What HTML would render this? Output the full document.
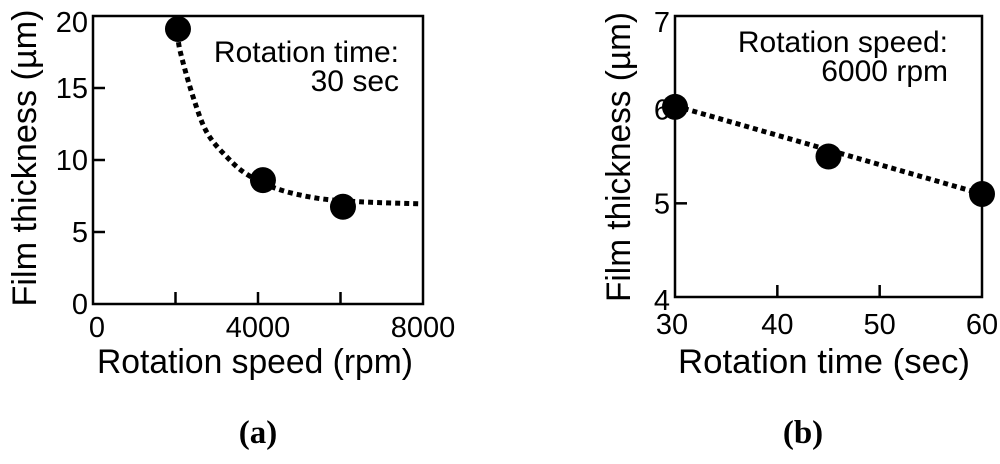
<!DOCTYPE html>
<html><head><meta charset="utf-8"><style>
body{margin:0;background:#fff}
svg text{font-family:"Liberation Sans",Arial,sans-serif;fill:#000}
svg text.panel{font-family:"Liberation Serif",serif;font-weight:bold}
</style></head><body>
<svg width="1000" height="459" viewBox="0 0 1000 459">
<g id="ga"></g>
<g id="gb"></g>
</svg>
<script>
const aX=[2060,4120,6060];
const aY=[19.1,8.6,6.75];
const aFitX=[2060,2109,2424,2764,3248,3733,4460,5430,6470,7980];
const aFitY=[18.8,17.6,14.4,11.9,10.2,9.0,8.0,7.35,7.1,6.95];
const aXTicks=[0,2000,4000,6000,8000];
const aXLabels=["0","","4000","","8000"];
const aYTicks=[0,5,10,15,20];
const aYLabels=["0","5","10","15","20"];
const bX=[30,45,60];
const bY=[6.03,5.5,5.1];
const bFitX=[30,60];
const bFitY=[6.04,5.1];
const bXTicks=[30,40,50,60];
const bXLabels=["30","40","50","60"];
const bYTicks=[4,5,6,7];
const bYLabels=["4","5","6","7"];
const NS="http://www.w3.org/2000/svg";
function mk(p,t,a,txt){const e=document.createElementNS(NS,t);for(const k in a)e.setAttribute(k,a[k]);if(txt!==undefined)e.textContent=txt;p.appendChild(e);return e;}
function smooth(pts){
 if(pts.length<3)return pts.map((p,i)=>(i?'L':'M')+p[0].toFixed(1)+' '+p[1].toFixed(1)).join(' ');
 let d='M'+pts[0][0].toFixed(1)+' '+pts[0][1].toFixed(1);
 for(let i=0;i<pts.length-1;i++){
  const p0=pts[Math.max(0,i-1)],p1=pts[i],p2=pts[i+1],p3=pts[Math.min(pts.length-1,i+2)];
  const c1=[p1[0]+(p2[0]-p0[0])/6,p1[1]+(p2[1]-p0[1])/6];
  const c2=[p2[0]-(p3[0]-p1[0])/6,p2[1]-(p3[1]-p1[1])/6];
  d+=` C${c1[0].toFixed(1)} ${c1[1].toFixed(1)} ${c2[0].toFixed(1)} ${c2[1].toFixed(1)} ${p2[0].toFixed(1)} ${p2[1].toFixed(1)}`;
 }
 return d;
}
function chart(g,c){
 const sx=v=>c.x0+(v-c.xmin)/(c.xmax-c.xmin)*(c.x1-c.x0);
 const sy=v=>c.y1-(v-c.ymin)/(c.ymax-c.ymin)*(c.y1-c.y0);
 const box=mk(g,'rect',{x:c.x0,y:c.y0,width:c.x1-c.x0,height:c.y1-c.y0,fill:'none',stroke:'#000','stroke-width':2.5});
 
 
 c.xt.forEach((v,i)=>{const x=sx(v);
  if(v>c.xmin&&v<c.xmax){const t=mk(g,'line',{x1:x,x2:x,y1:c.y1,y2:c.y1-12,stroke:'#000','stroke-width':2.5});
   
   }
  if(c.xl[i]){const l=mk(g,'text',{x:x+(i===0?c.xoff0:0),y:c.xly,'font-size':29,'text-anchor':'middle'},c.xl[i]);
   
   }
 });
 c.yt.forEach((v,i)=>{const y=sy(v);
  if(v>c.ymin&&v<c.ymax){const t=mk(g,'line',{x1:c.x0,x2:c.x0+12,y1:y,y2:y,stroke:'#000','stroke-width':2.5});
   
   }
  let by=y+10;
  if(v===c.ymax)by=c.y0+16;
  if(v===c.ymin&&c.ylow)by=c.y1+13;
  const l=mk(g,'text',{x:c.x0-5,y:by,'font-size':29,'text-anchor':'end'},c.yl[i]);
  
  
 });
 const d=smooth(c.fx.map((v,i)=>[sx(v),sy(c.fy[i])]));
 const fl=mk(g,'path',{d:d,fill:'none',stroke:'#000','stroke-width':5,'stroke-dasharray':'5 4'});
 
 
 c.px.forEach((v,i)=>{const p=mk(g,'circle',{cx:sx(v),cy:sy(c.py[i]),r:13,fill:'#000'});
  
  });
 const yt=mk(g,'text',{x:0,y:0,'font-size':34,'text-anchor':'middle',textLength:c.ytl,lengthAdjust:'spacingAndGlyphs',transform:`translate(${c.ytx},${c.yty}) rotate(-90)`},'Film thickness (\u00b5m)');
 
 
 const xt=mk(g,'text',{x:c.xtx,y:373,'font-size':34,'text-anchor':'middle',textLength:c.xtl,lengthAdjust:'spacingAndGlyphs'},c.xtitle);
 
 
 const a1=mk(g,'text',{x:c.ax,y:c.ay,'font-size':30,'text-anchor':'end'},c.ann1);
 
 
 const a2=mk(g,'text',{x:c.ax,y:c.ay+29,'font-size':30,'text-anchor':'end'},c.ann2);
 
 
 const pl=mk(g,'text',{x:c.px0,y:443,'font-size':33,'text-anchor':'middle','class':'panel'},c.panel);
 
 
}
chart(document.getElementById('ga'),{x0:93,x1:423,y0:16,y1:304,xmin:0,xmax:8000,ymin:0,ymax:20,
 xt:aXTicks,xl:aXLabels,yt:aYTicks,yl:aYLabels,fx:aFitX,fy:aFitY,px:aX,py:aY,xoff0:4,xly:337,
 ytx:36,yty:158,ytl:297,xtx:255,xtl:316,xtitle:'Rotation speed (rpm)',ax:399,ay:62,ann1:'Rotation time:',ann2:'30 sec',panel:'(a)',px0:258});
chart(document.getElementById('gb'),{x0:675,x1:982,y0:16,y1:297,xmin:30,xmax:60,ymin:4,ymax:7,
 xt:bXTicks,xl:bXLabels,yt:bYTicks,yl:bYLabels,fx:bFitX,fy:bFitY,px:bX,py:bY,xoff0:-3,xly:334,ylow:true,
 ytx:630,yty:157,ytl:290,xtx:824,xtl:292,xtitle:'Rotation time (sec)',ax:948,ay:52,ann1:'Rotation speed:',ann2:'6000 rpm',panel:'(b)',px0:803});
</script>
</body></html>
